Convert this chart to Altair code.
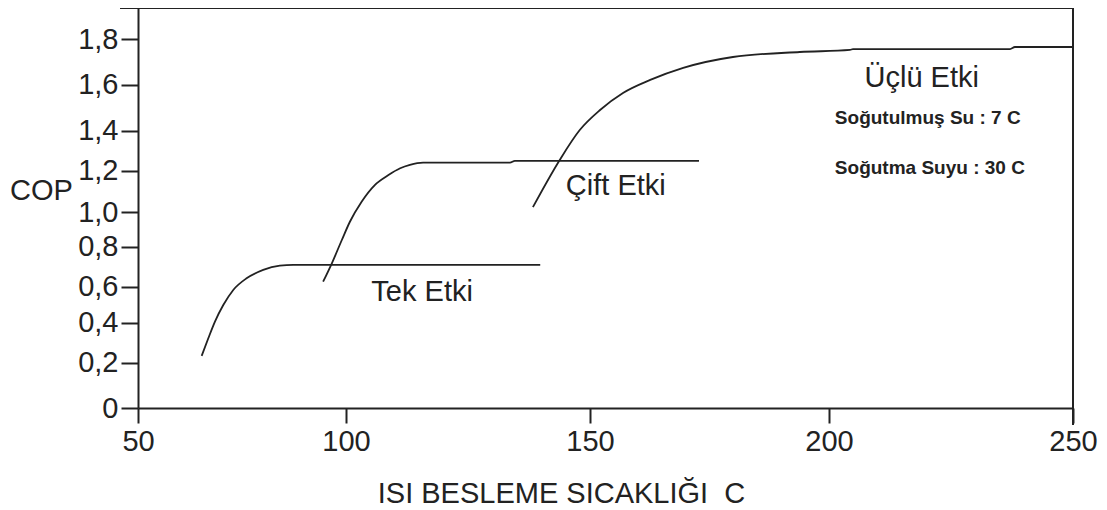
import altair as alt
import pandas as pd

# Series (x = feed temperature, y = COP)
tek_x = [65.3, 66.9, 68.5, 70.5, 72.9, 76.1, 80.1, 84.1, 87.3, 139.8]
tek_y = [0.234, 0.322, 0.406, 0.498, 0.582, 0.642, 0.684, 0.705, 0.709, 0.709]

cift_x = [94.5, 96.6, 99.0, 100.8, 103.2, 105.9, 108.7, 111.1, 113.1, 115.8, 133.6, 134.6, 172.8]
cift_y = [0.625, 0.717, 0.839, 0.945, 1.051, 1.131, 1.179, 1.212, 1.229, 1.24, 1.24, 1.249, 1.249]

uclu_x = [138.3, 143.8, 147.9, 152.1, 156.9, 162.6, 169.5, 179.9, 193.9, 204.3, 204.9, 237.1, 238.1, 250.0]
uclu_y = [1.025, 1.254, 1.403, 1.49, 1.564, 1.621, 1.674, 1.722, 1.744, 1.753, 1.757, 1.757, 1.766, 1.766]

x_ticks = [50, 100, 150, 200, 250]
y_ticks = [0, 0.2, 0.4, 0.6, 0.8, 1.0, 1.2, 1.4, 1.6, 1.8]
y_top = 1.94

big_labels = ["Tek Etki", "Çift Etki", "Üçlü Etki"]
big_label_x = [115.6, 155.4, 219.0]
big_label_y = [0.521, 1.083, 1.59]

small_labels = ["Soğutulmuş Su : 7 C", "Soğutma Suyu : 30 C"]
small_label_x = [201.2, 201.2]
small_label_y = [1.429, 1.184]

FONT = "Liberation Sans"
INK = "#222222"
W, H = 935, 400

# The printed axes of the original are not evenly spaced: piecewise scales
X_RANGE = [0, 208, 452, 691, 935]
Y_RANGE = [400, 354.7, 314.7, 278.7, 238.7, 204.3, 162.7, 122.7, 76.7, 31.3, 0]

rows = []
for name, xs, ys in [("Tek Etki", tek_x, tek_y), ("Çift Etki", cift_x, cift_y), ("Üçlü Etki", uclu_x, uclu_y)]:
    for i, (a, b) in enumerate(zip(xs, ys)):
        rows.append({"series": name, "order": i, "t": a, "cop": b})
df = pd.DataFrame(rows)

x_scale = alt.Scale(domain=x_ticks, range=X_RANGE, nice=False, zero=False)
y_scale = alt.Scale(domain=y_ticks + [y_top], range=Y_RANGE, nice=False, zero=False)

x_axis = alt.Axis(
    values=x_ticks, title="ISI BESLEME SICAKLIĞI \u00a0C", grid=False,
    tickSize=15, labelPadding=4, labelFontSize=29, labelFlush=False, labelOverlap=False,
    titleFontSize=29, titleFontWeight="normal", titleX=423, titleY=94,
    titleAlign="center", titleBaseline="alphabetic",
)
y_axis = alt.Axis(
    values=y_ticks, title="COP", grid=False,
    tickSize=17, labelPadding=3, labelFontSize=29, labelOverlap=False,
    labelExpr="datum.value == 0 ? '0' : replace(format(datum.value, '.1f'), '.', ',')",
    titleFontSize=29, titleFontWeight="normal", titleAngle=0, titleX=-97, titleY=182,
    titleAlign="center", titleBaseline="middle",
)

lines = alt.Chart(df).mark_line(color=INK, strokeWidth=1.8, interpolate="monotone").encode(
    x=alt.X("t:Q", scale=x_scale, axis=x_axis),
    y=alt.Y("cop:Q", scale=y_scale, axis=y_axis),
    detail="series:N",
    order="order:Q",
)

big_df = pd.DataFrame({"label": big_labels, "t": big_label_x, "cop": big_label_y})
big_text = alt.Chart(big_df).mark_text(
    font=FONT, fontSize=29, color=INK, align="center", baseline="alphabetic"
).encode(x=alt.X("t:Q", scale=x_scale), y=alt.Y("cop:Q", scale=y_scale), text="label:N")

small_df = pd.DataFrame({"label": small_labels, "t": small_label_x, "cop": small_label_y})
small_text = alt.Chart(small_df).mark_text(
    font=FONT, fontSize=19, fontWeight="bold", color=INK, align="left", baseline="alphabetic"
).encode(x=alt.X("t:Q", scale=x_scale), y=alt.Y("cop:Q", scale=y_scale), text="label:N")

one = alt.Data(values=[{"k": 1}])
top_rule = alt.Chart(one).mark_rule(color=INK, strokeWidth=2).encode(
    x=alt.value(-18), x2=alt.value(W), y=alt.value(0)
)
right_rule = alt.Chart(one).mark_rule(color=INK, strokeWidth=2).encode(
    x=alt.value(W), y=alt.value(0), y2=alt.value(H + 17)
)

chart = alt.layer(lines, big_text, small_text, top_rule, right_rule).properties(
    width=W, height=H,
    autosize=alt.AutoSizeParams(type="none"),
    padding={"left": 130, "top": 0, "right": 26, "bottom": 102},
    background="white",
).configure_view(stroke=None).configure_axis(
    domainColor=INK, domainWidth=2, tickColor=INK, tickWidth=2,
    labelColor=INK, titleColor=INK, labelFont=FONT, titleFont=FONT,
)

chart.save("out.html", embed_options={"renderer": "svg", "actions": False})
